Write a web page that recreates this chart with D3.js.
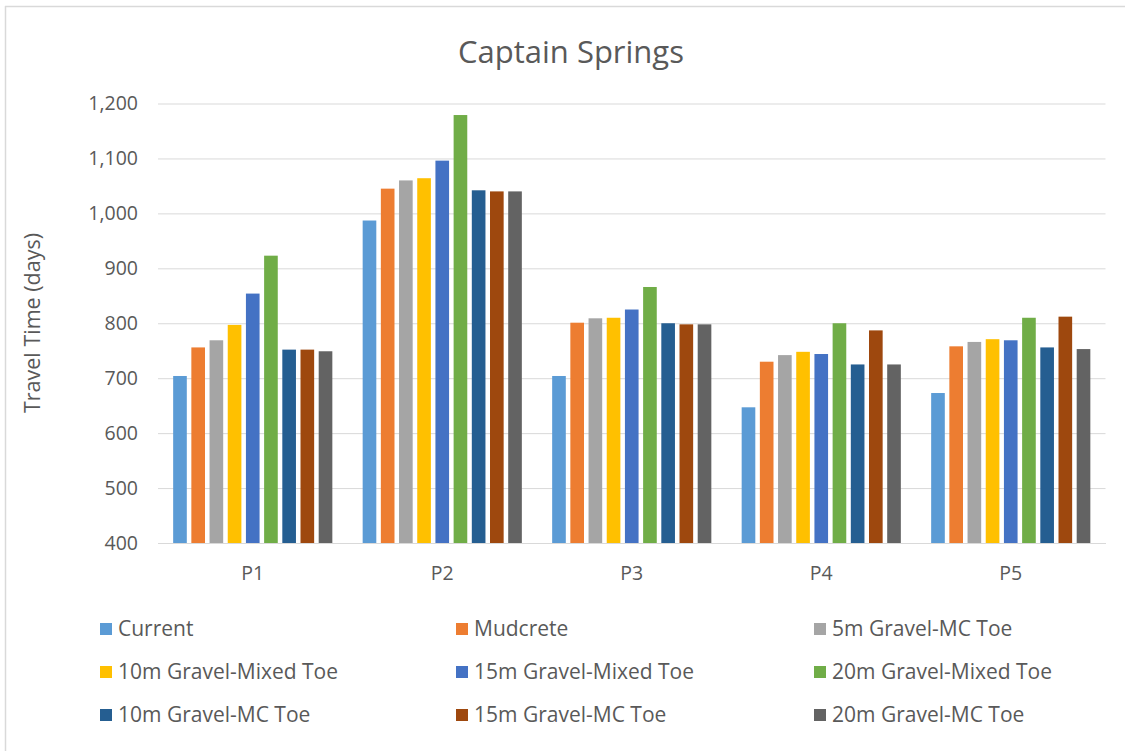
<!DOCTYPE html>
<html>
<head>
<meta charset="utf-8">
<script src="https://cdn.jsdelivr.net/npm/d3@7"></script>
<style>
  html, body { margin: 0; padding: 0; background: #ffffff; }
  svg { display: block; }
  text { font-family: "Open Sans", "Noto Sans", sans-serif; fill: #595959; }
</style>
</head>
<body>
<svg id="chart" width="1125" height="751"></svg>
<script>
// Travel time per piezometer location, one series per design option
const categories = ["P1", "P2", "P3", "P4", "P5"];
const seriesNames = [
  "Current", "Mudcrete", "5m Gravel-MC Toe",
  "10m Gravel-Mixed Toe", "15m Gravel-Mixed Toe", "20m Gravel-Mixed Toe",
  "10m Gravel-MC Toe", "15m Gravel-MC Toe", "20m Gravel-MC Toe"
];
const current        = [704, 987, 704, 647, 673];
const mudcrete       = [756, 1045, 801, 730, 758];
const gravel5MC      = [769, 1060, 809, 742, 766];
const gravel10Mixed  = [797, 1064, 810, 748, 771];
const gravel15Mixed  = [854, 1096, 825, 744, 769];
const gravel20Mixed  = [923, 1179, 866, 800, 810];
const gravel10MC     = [752, 1042, 800, 725, 756];
const gravel15MC     = [752, 1040, 798, 787, 812];
const gravel20MC     = [749, 1040, 798, 725, 753];
const yTicks = [400, 500, 600, 700, 800, 900, 1000, 1100, 1200];
const colors = ["#5B9BD5", "#ED7D31", "#A5A5A5", "#FFC000", "#4472C4",
                "#70AD47", "#255E91", "#9E480E", "#636363"];

const seriesValues = [current, mudcrete, gravel5MC, gravel10Mixed, gravel15Mixed,
                      gravel20Mixed, gravel10MC, gravel15MC, gravel20MC];

const svg = d3.select("#chart");
const plot = { left: 158, right: 1105.5, top: 103.5, bottom: 543 };

// Chart frame
svg.append("line").attr("x1", 5.5).attr("x2", 5.5).attr("y1", 6).attr("y2", 751)
  .attr("stroke", "#d9d9d9").attr("stroke-width", 1.5);
svg.append("line").attr("x1", 5).attr("x2", 1125).attr("y1", 6.5).attr("y2", 6.5)
  .attr("stroke", "#d9d9d9").attr("stroke-width", 1.5);

const x0 = d3.scaleBand().domain(categories).range([plot.left, plot.right])
  .paddingInner(0.16).paddingOuter(0.08);
const x1 = d3.scaleBand().domain(seriesNames).range([0, x0.bandwidth()])
  .paddingInner(0.25).paddingOuter(0);
const y = d3.scaleLinear().domain([400, 1200]).range([plot.bottom, plot.top]);

// Gridlines and y labels
const yAxis = d3.axisLeft(y).tickValues(yTicks)
  .tickSize(-(plot.right - plot.left)).tickPadding(20)
  .tickFormat(d3.format(","));
const gy = svg.append("g").attr("transform", `translate(${plot.left},0)`).call(yAxis);
gy.select(".domain").remove();
gy.selectAll(".tick line").attr("stroke", "#d9d9d9").attr("stroke-width", 1);
gy.selectAll(".tick text").attr("font-size", 19.5).style("fill", "#595959")
  .attr("font-family", "'Open Sans', sans-serif");

// Category axis
const xAxis = d3.axisBottom(x0).tickSize(0).tickPadding(23);
const gx = svg.append("g").attr("transform", `translate(0,${plot.bottom})`).call(xAxis);
gx.select(".domain").attr("stroke", "#d9d9d9");
gx.selectAll(".tick text").attr("font-size", 19.5).style("fill", "#595959")
  .attr("font-family", "'Open Sans', sans-serif");

// Bars
const groups = svg.append("g").selectAll("g").data(categories).join("g")
  .attr("transform", d => `translate(${x0(d)},0)`);
groups.selectAll("rect")
  .data((c, ci) => seriesNames.map((s, si) => ({ s, si, v: seriesValues[si][ci] })))
  .join("rect")
  .attr("x", d => x1(d.s))
  .attr("width", x1.bandwidth())
  .attr("y", d => y(d.v))
  .attr("height", d => y(400) - y(d.v))
  .attr("fill", d => colors[d.si]);

// Title
svg.append("text").attr("x", 571).attr("y", 63).attr("text-anchor", "middle")
  .attr("font-size", 31).text("Captain Springs");

// Y axis title
svg.append("text").attr("transform", "translate(40,323) rotate(-90)")
  .attr("text-anchor", "middle").attr("font-size", 21.5).text("Travel Time (days)");

// Legend: three columns, three rows
const legendCols = [100, 456, 814];
const legendRows = [629, 672, 715];
const legend = svg.append("g").selectAll("g").data(seriesNames).join("g")
  .attr("transform", (d, i) => `translate(${legendCols[i % 3]},${legendRows[Math.floor(i / 3)]})`);
legend.append("rect").attr("x", 0).attr("y", -6).attr("width", 12).attr("height", 12)
  .attr("fill", (d, i) => colors[i]);
legend.append("text").attr("x", 18).attr("y", 0).attr("dy", "0.35em")
  .attr("font-size", 21).text(d => d);
</script>
</body>
</html>
